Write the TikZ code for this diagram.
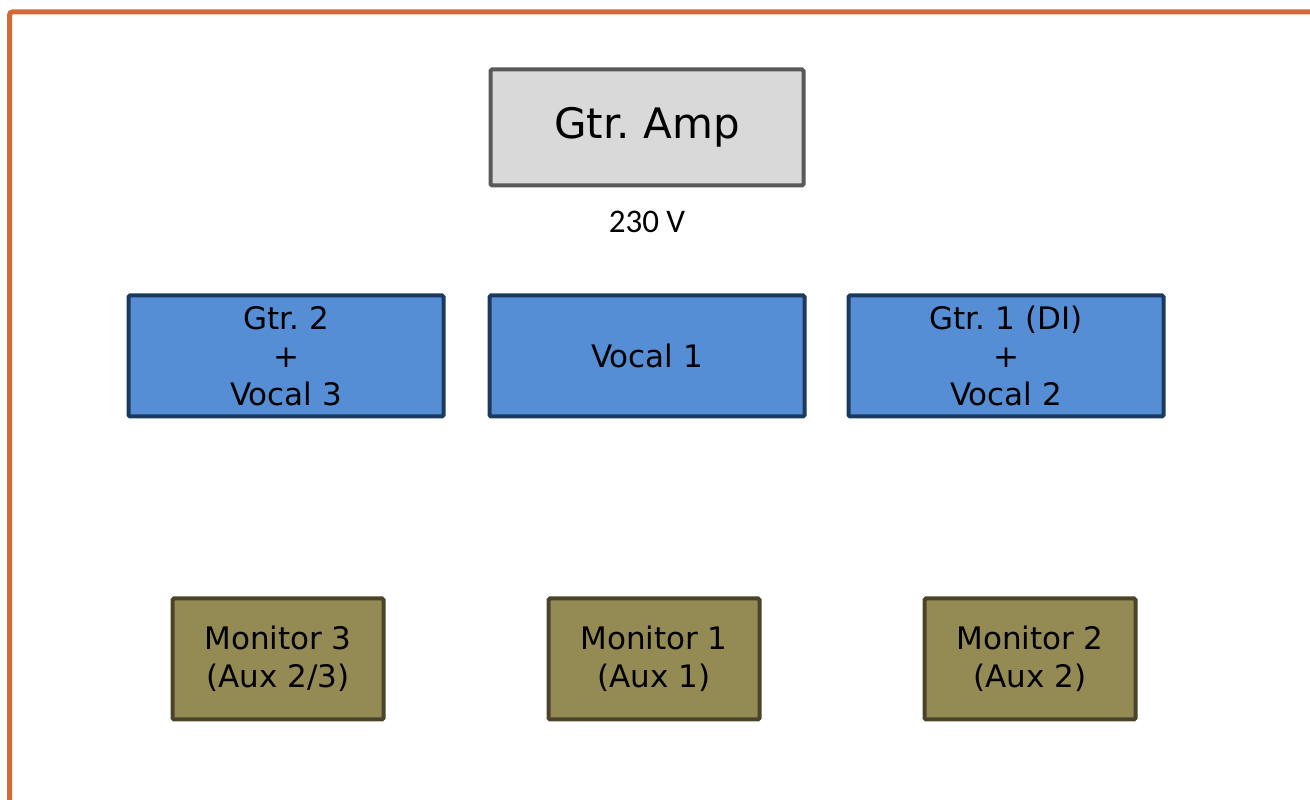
\documentclass[tikz,border=0pt]{standalone}
\usepackage{fontspec}
\setmainfont{DejaVu Sans}
\newfontfamily\labelfont{Carlito}
\usepackage{xcolor}
\usepackage{tikz}
\usetikzlibrary{positioning}

\definecolor{frameorange}{HTML}{D2693A}
\definecolor{ampfill}{HTML}{D9D9D9}
\definecolor{ampline}{HTML}{595959}
\definecolor{micfill}{HTML}{558ED5}
\definecolor{micline}{HTML}{1C3A5E}
\definecolor{monfill}{HTML}{948A54}
\definecolor{monline}{HTML}{4A452A}

\begin{document}
\frenchspacing
\begin{tikzpicture}[x=1pt,y=1pt,box/.style={draw, rectangle, rounded corners=1.5pt, line width=4pt, inner sep=0pt, align=center, text=black}]
        \tikzstyle{amp} = [box, fill=ampfill, draw=ampline, minimum width=313pt, minimum height=116pt, font=\fontsize{42}{50}\selectfont]
        \tikzstyle{mic} = [box, fill=micfill, draw=micline, minimum width=315pt, minimum height=121pt, font=\fontsize{31}{38}\selectfont]
        \tikzstyle{monitor} = [box, fill=monfill, draw=monline, minimum width=211pt, minimum height=121pt, font=\fontsize{31}{38}\selectfont]
        \useasboundingbox (0,0) rectangle (1310,800);
        \draw[frameorange, line width=5pt, rounded corners=3pt] (9.5,788) rectangle (1340,-30);

        \node[amp] (amp) at (647,672.5) {Gtr. Amp};
        \node[below = 24pt of amp, inner sep=0pt, outer sep=0pt, font=\labelfont\fontsize{33}{38}\selectfont] (power) {230 V};
        \node[mic, below = 106pt of amp] (vocal1) {Vocal 1};
        \node[mic, left = 42pt of vocal1] (gtr2) {Gtr. 2\\+\\Vocal 3};
        \node[mic, right = 40pt of vocal1] (gtr1) {Gtr. 1 (DI)\\+\\Vocal 2};
        \node[monitor, below = 178pt of vocal1, xshift=7pt] (mon1) {Monitor 1\\(Aux 1)};
        \node[monitor, left = 161pt of mon1] (mon3) {Monitor 3\\(Aux 2/3)};
        \node[monitor, right = 161pt of mon1] (mon2) {Monitor 2\\(Aux 2)};
\end{tikzpicture}
\end{document}
